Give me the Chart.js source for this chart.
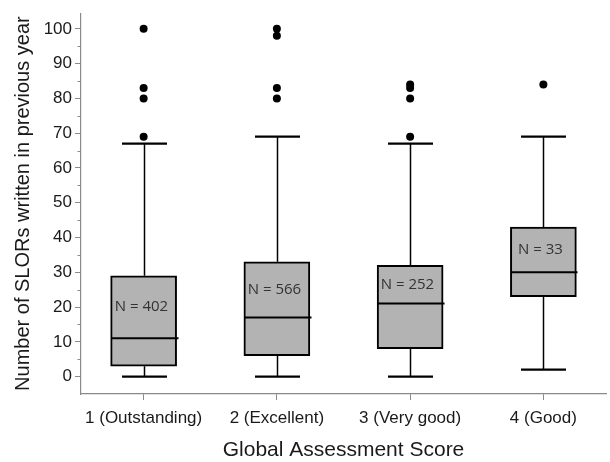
<!DOCTYPE html>
<html>
<head>
<meta charset="utf-8">
<script src="https://cdn.jsdelivr.net/npm/chart.js@4.4.1/dist/chart.umd.min.js"></script>
<style>
  html, body { margin: 0; padding: 0; background: #fff; }
  #wrap { width: 610px; height: 462px; }
</style>
</head>
<body>
<div id="wrap"><canvas id="boxChart"></canvas></div>
<script>
// values
const categories = ['1 (Outstanding)', '2 (Excellent)', '3 (Very good)', '4 (Good)'];
const groupN = [402, 566, 252, 33];
const whiskerLow = [0, 0, 0, 2];
const q1 = [3, 6, 8, 23];
const median = [11, 17, 21, 30];
const q3 = [29, 33, 32, 43];
const whiskerHigh = [67, 69, 67, 69];
const outliers = [
    [69, 80, 83, 100],
    [80, 83, 98, 100],
    [69, 80, 83, 84],
    [84]
];
const yTicks = [0, 10, 20, 30, 40, 50, 60, 70, 80, 90, 100];
const yMinorTicks = [5, 15, 25, 35, 45, 55, 65, 75, 85, 95];

const axisGray = '#8a8a8a';

// whiskers, caps, medians, N labels and minor ticks
const boxExtras = {
    id: 'boxExtras',
    afterDatasetsDraw(chart) {
        const { ctx, scales: { x, y } } = chart;
        const seg = (x1, y1, x2, y2) => {
            ctx.beginPath();
            ctx.moveTo(x1, y1);
            ctx.lineTo(x2, y2);
            ctx.stroke();
        };
        ctx.save();
        ctx.strokeStyle = '#000';
        categories.forEach((c, i) => {
            const cx = Math.round(x.getPixelForValue(i + 1)) + 0.5;
            ctx.lineWidth = 1.5;
            seg(cx, y.getPixelForValue(q3[i]), cx, y.getPixelForValue(whiskerHigh[i]));
            seg(cx, y.getPixelForValue(q1[i]), cx, y.getPixelForValue(whiskerLow[i]));
            ctx.lineWidth = 2.2;
            seg(cx - 22.5, y.getPixelForValue(whiskerHigh[i]), cx + 22.5, y.getPixelForValue(whiskerHigh[i]));
            seg(cx - 22.5, y.getPixelForValue(whiskerLow[i]), cx + 22.5, y.getPixelForValue(whiskerLow[i]));
            ctx.lineWidth = 2;
            seg(cx - 33, y.getPixelForValue(median[i]), cx + 34, y.getPixelForValue(median[i]));

            ctx.fillStyle = '#333';
            ctx.font = '15px "Liberation Sans Narrow", "Open Sans", sans-serif';
            ctx.textAlign = 'center';
            ctx.textBaseline = 'middle';
            ctx.fillText('N = ' + groupN[i], cx - 3, y.getPixelForValue((median[i] + q3[i]) / 2));
        });

        ctx.strokeStyle = axisGray;
        ctx.lineWidth = 1;
        yMinorTicks.forEach(v => {
            const py = Math.round(y.getPixelForValue(v)) + 0.5;
            seg(x.left - 3.5, py, x.left, py);
        });
        ctx.restore();
    }
};

const boxData = categories.map((c, i) => ({ x: i + 1, y: [q1[i], q3[i]] }));
const outlierData = [];
outliers.forEach((list, i) => list.forEach(v => outlierData.push({ x: i + 1, y: v })));

const boxChart = new Chart(document.getElementById('boxChart'), {
    type: 'bar',
    data: {
        datasets: [{
            label: 'IQR',
            data: boxData,
            backgroundColor: '#b3b3b3',
            borderColor: '#000',
            borderWidth: 2,
            borderSkipped: false,
            barThickness: 66
        }, {
            type: 'scatter',
            label: 'Outliers',
            data: outlierData,
            backgroundColor: '#000',
            borderColor: '#000',
            pointRadius: 4,
            pointBorderWidth: 0
        }]
    },
    options: {
        responsive: true,
        maintainAspectRatio: false,
        animation: false,
        layout: { padding: { left: 4, top: 13, right: 0, bottom: 0 } },
        scales: {
            x: {
                type: 'linear',
                offset: false,
                min: 0.53,
                max: 4.47,
                afterBuildTicks: (axis) => { axis.ticks = categories.map((c, i) => ({ value: i + 1 })); },
                afterFit: (axis) => { axis.height = 68; },
                grid: { display: true, offset: false, drawOnChartArea: false, tickLength: 6, color: axisGray },
                border: { color: axisGray, width: 1.2 },
                ticks: {
                    padding: 8,
                    color: '#1a1a1a',
                    font: { family: '"Liberation Sans", Arial, sans-serif', size: 17 },
                    callback: (v) => categories[v - 1] || ''
                },
                title: {
                    display: true,
                    text: 'Global Assessment Score',
                    color: '#1a1a1a',
                    font: { family: '"Liberation Sans", Arial, sans-serif', size: 21 },
                    padding: { top: 4, bottom: -1 }
                }
            },
            y: {
                min: -5,
                max: 104.5,
                afterBuildTicks: (axis) => { axis.ticks = yTicks.map(v => ({ value: v })); },
                afterFit: (axis) => { axis.width = 77; },
                grid: { display: true, drawOnChartArea: false, tickLength: 6, color: axisGray },
                border: { color: axisGray, width: 1.2 },
                ticks: {
                    padding: 3,
                    color: '#1a1a1a',
                    font: { family: '"Liberation Sans", Arial, sans-serif', size: 17 }
                },
                title: {
                    display: true,
                    text: 'Number of SLORs written in previous year',
                    color: '#1a1a1a',
                    font: { family: '"Liberation Sans", Arial, sans-serif', size: 20 },
                    padding: { top: 7, bottom: 8 }
                }
            }
        },
        plugins: {
            legend: { display: false },
            tooltip: { enabled: false }
        }
    },
    plugins: [boxExtras]
});
</script>
</body>
</html>
